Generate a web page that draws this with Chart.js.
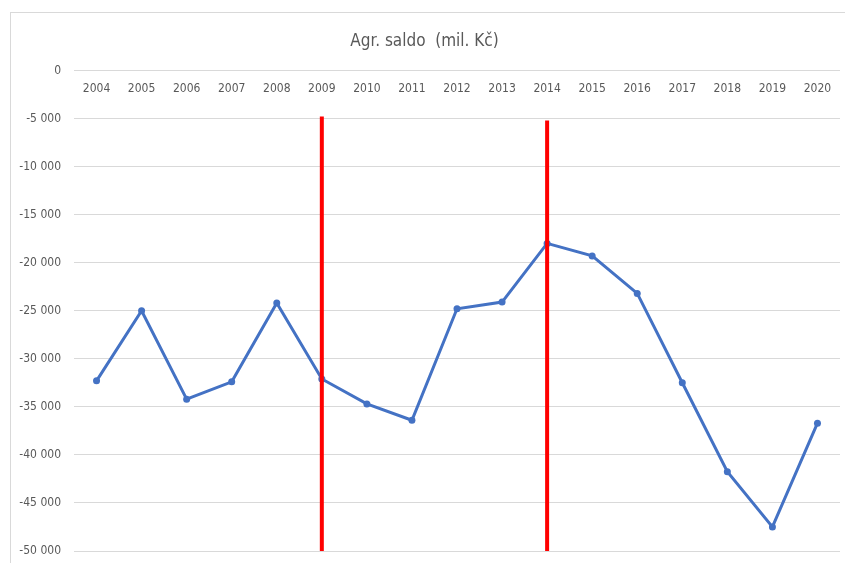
<!DOCTYPE html>
<html>
<head>
<meta charset="utf-8">
<script src="https://cdn.jsdelivr.net/npm/chart.js@4"></script>
<style>
  html, body { margin: 0; padding: 0; background: #fff; }
</style>
</head>
<body>
<canvas id="chart" width="845" height="563"></canvas>
<script>
const years = ['2004', '2005', '2006', '2007', '2008', '2009', '2010', '2011', '2012',
  '2013', '2014', '2015', '2016', '2017', '2018', '2019', '2020'];
const saldo = [-32300, -25000, -34200, -32400, -24200, -32100, -34700, -36400, -24800,
  -24100, -18000, -19300, -23200, -32500, -41750, -47500, -36700];
const markerYears = ['2009', '2014'];
const markerTops = [-4800, -5200];
const markerBottom = -50000;
const yTicks = [0, -5000, -10000, -15000, -20000, -25000, -30000, -35000, -40000, -45000, -50000];

const FONT = '"DejaVu Sans Condensed", "Liberation Sans Narrow", Lato, sans-serif';
const grey = '#595959';

// frame round the chart, like the Excel chart box
const framePlugin = {
  id: 'frame',
  beforeDraw(chart) {
    const ctx = chart.ctx;
    ctx.save();
    ctx.strokeStyle = '#d9d9d9';
    ctx.lineWidth = 1;
    ctx.strokeRect(10.5, 12.5, chart.width, chart.height);
    ctx.restore();
  }
};

const markerSets = markerYears.map((yr, i) => ({
  label: 'marker ' + yr,
  data: [{ x: yr, y: markerTops[i] }, { x: yr, y: markerBottom }],
  borderColor: '#ff0000',
  borderWidth: 4,
  pointRadius: 0,
  order: 0
}));

new Chart(document.getElementById('chart'), {
  type: 'line',
  data: {
    labels: years,
    datasets: [{
      label: 'Agr. saldo',
      data: saldo,
      borderColor: '#4472c4',
      backgroundColor: '#4472c4',
      borderWidth: 3,
      pointRadius: 3.5,
      pointBorderWidth: 0,
      tension: 0,
      order: 1
    }, ...markerSets]
  },
  options: {
    responsive: false,
    animation: false,
    layout: { padding: { left: 9, right: 5, top: 0, bottom: 12 } },
    plugins: {
      legend: { display: false },
      tooltip: { enabled: false },
      title: {
        display: true,
        text: 'Agr. saldo  (mil. Kč)',
        color: grey,
        font: { family: FONT, size: 17, weight: 'normal' },
        padding: { top: 31, bottom: 19 }
      }
    },
    scales: {
      x: {
        type: 'category',
        offset: true,
        position: { y: 0 },
        afterFit(scale) { scale.height = 0; },
        grid: { display: false },
        border: { display: false },
        ticks: {
          color: grey,
          font: { family: FONT, size: 12 },
          padding: 3,
          maxRotation: 0,
          autoSkip: false
        }
      },
      y: {
        min: -50000,
        max: 0,
        afterBuildTicks(scale) {
          scale.ticks = yTicks.map(v => ({ value: v }));
        },
        afterFit(scale) {
          scale.width = 65;
          scale.paddingTop = 0;
          scale.paddingBottom = 0;
        },
        grid: { color: '#d9d9d9', lineWidth: 1, drawTicks: false },
        border: { display: false },
        ticks: {
          color: grey,
          padding: 13,
          font: { family: FONT, size: 12 },
          callback: v => String(v).replace(/\B(?=(\d{3})+(?!\d))/g, ' ')
        }
      }
    }
  },
  plugins: [framePlugin]
});
</script>
</body>
</html>
